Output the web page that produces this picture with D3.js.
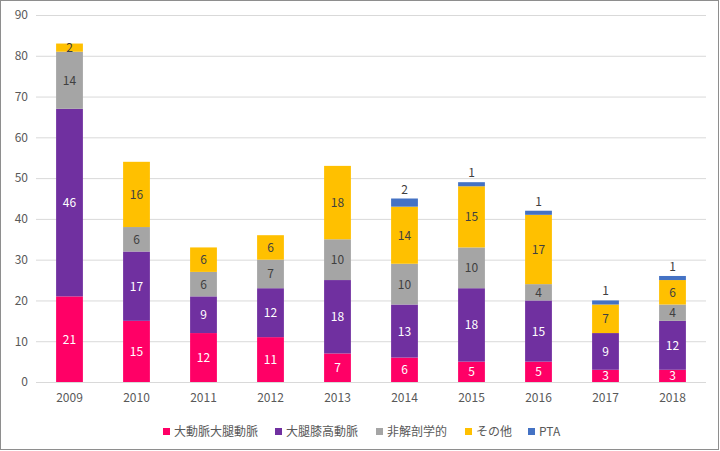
<!DOCTYPE html>
<html><head><meta charset="utf-8">
<script src="https://cdn.jsdelivr.net/npm/d3@7"></script>
<style>body{margin:0;background:#fff}svg{display:block}</style>
</head><body><svg id="c" width="720" height="451"></svg>
<script>
const years = ["2009","2010","2011","2012","2013","2014","2015","2016","2017","2018"];
const seriesNames = ["大動脈大腿動脈","大腿膝高動脈","非解剖学的","その他","PTA"];
const aortoFemoral = [21,15,12,11,7,6,5,5,3,3];
const femoroPopliteal = [46,17,9,12,18,13,18,15,9,12];
const extraAnatomic = [14,6,6,7,10,10,10,4,0,4];
const others = [2,16,6,6,18,14,15,17,7,6];
const pta = [0,0,0,0,0,2,1,1,1,1];
const yTicks = [0,10,20,30,40,50,60,70,80,90];
const colors = ["#FF0066","#7030A0","#A5A5A5","#FFC000","#4472C4"];
const labelColors = ["#ffffff","#ffffff","#404040","#404040","#404040"];

const seriesVals = [aortoFemoral, femoroPopliteal, extraAnatomic, others, pta];
const rows = years.map((y,i)=>{const r={year:y}; seriesNames.forEach((s,j)=>r[s]=seriesVals[j][i]); return r;});
const stacked = d3.stack().keys(seriesNames)(rows);

const svg = d3.select("#c");
const font = "'Noto Sans CJK JP','Noto Sans',sans-serif";
svg.append("rect").attr("x",0.5).attr("y",0.5).attr("width",718).attr("height",449).attr("fill","#fff").attr("stroke","#8E8E8E");

const x = d3.scaleBand().domain(years).range([36,706]).paddingInner(0.6).paddingOuter(0.3);
const y = d3.scaleLinear().domain([0,90]).range([382,15]);

const g = svg.append("g");
g.selectAll("line.grid").data(yTicks).join("line")
  .attr("x1",36).attr("x2",706).attr("y1",d=>y(d)+0.5).attr("y2",d=>y(d)+0.5)
  .attr("stroke","#D9D9D9").attr("stroke-width",1);

const yAxis = svg.append("g").attr("transform","translate(36,0)")
  .call(d3.axisLeft(y).tickValues(yTicks).tickSize(0).tickPadding(8));
yAxis.select(".domain").remove();
yAxis.selectAll("text").attr("fill","#595959").style("font-family",font).style("font-size","12px");

const xAxis = svg.append("g").attr("transform","translate(0,382)")
  .call(d3.axisBottom(x).tickSize(0).tickPadding(11));
xAxis.select(".domain").remove();
xAxis.selectAll("text").attr("fill","#595959").style("font-family",font).style("font-size","12px");

stacked.forEach((s,j)=>{
  const sg = g.append("g");
  sg.selectAll("rect").data(s.filter(d=>d[1]-d[0]>0)).join("rect")
    .attr("x",d=>x(d.data.year)).attr("width",x.bandwidth())
    .attr("y",d=>y(d[1])).attr("height",d=>y(d[0])-y(d[1]))
    .attr("fill",colors[j]);
  const isPTA = j===4;
  sg.selectAll("text").data(s.filter(d=>d[1]-d[0]>0)).join("text")
    .attr("x",d=>x(d.data.year)+x.bandwidth()/2)
    .attr("y",d=> isPTA ? y(d[1])-5 : (y(d[0])+y(d[1]))/2+4.5)
    .attr("text-anchor","middle")
    .attr("fill",isPTA?"#404040":labelColors[j])
    .style("font-family",font).style("font-size","12px")
    .text(d=>d[1]-d[0]);
});

const legendX = [163,275,376,465,528];
const lg = svg.append("g");
seriesNames.forEach((s,j)=>{
  lg.append("rect").attr("x",legendX[j]).attr("y",428).attr("width",7).attr("height",7).attr("fill",colors[j]);
  lg.append("text").attr("x",legendX[j]+11).attr("y",436).attr("fill","#595959")
    .style("font-family",font).style("font-size","12px").text(s);
});
</script></body></html>
